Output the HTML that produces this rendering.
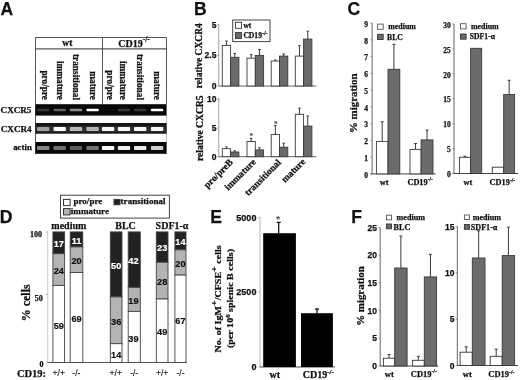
<!DOCTYPE html>
<html><head><meta charset="utf-8"><style>
html,body{margin:0;padding:0;background:#fff;}
svg{display:block;will-change:transform;}
</style></head><body>
<svg width="520" height="380" viewBox="0 0 520 380">
<defs><filter id="bl" x="-20%" y="-100%" width="140%" height="300%"><feGaussianBlur stdDeviation="0.7"/></filter></defs>
<rect x="0" y="0" width="520" height="380" fill="#fff"/>
<text x="0.60" y="14.60" font-family="'Liberation Sans', sans-serif" font-size="17.5" font-weight="bold" text-anchor="start" fill="#111" stroke="#111" stroke-width="0.25" >A</text>
<line x1="35.50" y1="37.50" x2="166.50" y2="37.50" stroke="#555" stroke-width="1"/>
<line x1="35.50" y1="48.80" x2="166.50" y2="48.80" stroke="#555" stroke-width="1.3"/>
<line x1="35.50" y1="37.50" x2="35.50" y2="154.00" stroke="#555" stroke-width="1"/>
<line x1="166.50" y1="37.50" x2="166.50" y2="104.00" stroke="#555" stroke-width="1"/>
<line x1="166.50" y1="104.00" x2="166.50" y2="154.00" stroke="#bbb" stroke-width="1"/>
<line x1="102.50" y1="37.50" x2="102.50" y2="104.00" stroke="#555" stroke-width="1"/>
<text x="67.30" y="45.70" font-family="'Liberation Serif', serif" font-size="9.5" font-weight="bold" text-anchor="middle" fill="#111" stroke="#111" stroke-width="0.25" >wt</text>
<text x="118.30" y="46.50" font-family="'Liberation Serif', serif" font-size="10" font-weight="bold" text-anchor="start" fill="#111" stroke="#111" stroke-width="0.25" >CD19<tspan font-size="7.5" dy="-4.3">-/-</tspan></text>
<text x="42.00" y="100.00" font-family="'Liberation Serif', serif" font-size="9.3" font-weight="bold" text-anchor="end" fill="#111" stroke="#111" stroke-width="0.25" transform="rotate(90 42.00 100.00)" >pro/pre</text>
<text x="56.70" y="100.00" font-family="'Liberation Serif', serif" font-size="9.3" font-weight="bold" text-anchor="end" fill="#111" stroke="#111" stroke-width="0.25" transform="rotate(90 56.70 100.00)" >immature</text>
<text x="73.20" y="100.00" font-family="'Liberation Serif', serif" font-size="9.3" font-weight="bold" text-anchor="end" fill="#111" stroke="#111" stroke-width="0.25" transform="rotate(90 73.20 100.00)" >transitional</text>
<text x="89.70" y="100.00" font-family="'Liberation Serif', serif" font-size="9.3" font-weight="bold" text-anchor="end" fill="#111" stroke="#111" stroke-width="0.25" transform="rotate(90 89.70 100.00)" >mature</text>
<text x="107.10" y="100.00" font-family="'Liberation Serif', serif" font-size="9.3" font-weight="bold" text-anchor="end" fill="#111" stroke="#111" stroke-width="0.25" transform="rotate(90 107.10 100.00)" >pro/pre</text>
<text x="120.30" y="100.00" font-family="'Liberation Serif', serif" font-size="9.3" font-weight="bold" text-anchor="end" fill="#111" stroke="#111" stroke-width="0.25" transform="rotate(90 120.30 100.00)" >immature</text>
<text x="137.00" y="100.00" font-family="'Liberation Serif', serif" font-size="9.3" font-weight="bold" text-anchor="end" fill="#111" stroke="#111" stroke-width="0.25" transform="rotate(90 137.00 100.00)" >transitional</text>
<text x="153.50" y="100.00" font-family="'Liberation Serif', serif" font-size="9.3" font-weight="bold" text-anchor="end" fill="#111" stroke="#111" stroke-width="0.25" transform="rotate(90 153.50 100.00)" >mature</text>
<rect x="35.50" y="104.20" width="131.00" height="11.40" fill="#080808" />
<rect x="35.50" y="123.00" width="131.00" height="10.70" fill="#151515" />
<rect x="35.50" y="126.00" width="131.00" height="6.30" fill="#2c2c2c" filter="url(#bl)"/>
<rect x="35.50" y="142.00" width="131.00" height="11.80" fill="#080808" />
<rect x="37.00" y="108.70" width="12.4" height="2.6" rx="1" fill="rgb(56,56,56)" filter="url(#bl)"/>
<rect x="53.50" y="108.70" width="12.4" height="2.6" rx="1" fill="rgb(96,96,96)" filter="url(#bl)"/>
<rect x="69.80" y="108.70" width="12.4" height="2.6" rx="1" fill="rgb(140,140,140)" filter="url(#bl)"/>
<rect x="86.40" y="108.70" width="12.4" height="2.6" rx="1" fill="rgb(255,255,255)" filter="url(#bl)"/>
<rect x="101.90" y="108.70" width="12.4" height="2.6" rx="1" fill="rgb(15,15,15)" filter="url(#bl)"/>
<rect x="117.80" y="108.70" width="12.4" height="2.6" rx="1" fill="rgb(56,56,56)" filter="url(#bl)"/>
<rect x="134.00" y="108.70" width="12.4" height="2.6" rx="1" fill="rgb(56,56,56)" filter="url(#bl)"/>
<rect x="150.90" y="108.70" width="12.4" height="2.6" rx="1" fill="rgb(255,255,255)" filter="url(#bl)"/>
<rect x="37.00" y="127.10" width="12.4" height="3.8" rx="1" fill="rgb(158,158,158)" filter="url(#bl)"/>
<rect x="53.50" y="127.10" width="12.4" height="3.8" rx="1" fill="rgb(255,255,255)" filter="url(#bl)"/>
<rect x="69.80" y="127.10" width="12.4" height="3.8" rx="1" fill="rgb(183,183,183)" filter="url(#bl)"/>
<rect x="86.40" y="127.10" width="12.4" height="3.8" rx="1" fill="rgb(178,178,178)" filter="url(#bl)"/>
<rect x="101.90" y="127.10" width="12.4" height="3.8" rx="1" fill="rgb(247,247,247)" filter="url(#bl)"/>
<rect x="117.80" y="127.10" width="12.4" height="3.8" rx="1" fill="rgb(247,247,247)" filter="url(#bl)"/>
<rect x="134.00" y="127.10" width="12.4" height="3.8" rx="1" fill="rgb(247,247,247)" filter="url(#bl)"/>
<rect x="150.90" y="127.10" width="12.4" height="3.8" rx="1" fill="rgb(247,247,247)" filter="url(#bl)"/>
<rect x="37.00" y="146.10" width="12.4" height="3.8" rx="1" fill="rgb(132,132,132)" filter="url(#bl)"/>
<rect x="53.50" y="146.10" width="12.4" height="3.8" rx="1" fill="rgb(114,114,114)" filter="url(#bl)"/>
<rect x="69.80" y="146.10" width="12.4" height="3.8" rx="1" fill="rgb(91,91,91)" filter="url(#bl)"/>
<rect x="86.40" y="146.10" width="12.4" height="3.8" rx="1" fill="rgb(114,114,114)" filter="url(#bl)"/>
<rect x="101.90" y="146.10" width="12.4" height="3.8" rx="1" fill="rgb(247,247,247)" filter="url(#bl)"/>
<rect x="117.80" y="146.10" width="12.4" height="3.8" rx="1" fill="rgb(237,237,237)" filter="url(#bl)"/>
<rect x="134.00" y="146.10" width="12.4" height="3.8" rx="1" fill="rgb(234,234,234)" filter="url(#bl)"/>
<rect x="150.90" y="146.10" width="12.4" height="3.8" rx="1" fill="rgb(209,209,209)" filter="url(#bl)"/>
<text x="31.40" y="112.90" font-family="'Liberation Serif', serif" font-size="9.1" font-weight="bold" text-anchor="end" fill="#111" stroke="#111" stroke-width="0.25" >CXCR5</text>
<text x="31.60" y="131.80" font-family="'Liberation Serif', serif" font-size="9.1" font-weight="bold" text-anchor="end" fill="#111" stroke="#111" stroke-width="0.25" >CXCR4</text>
<text x="31.80" y="150.00" font-family="'Liberation Serif', serif" font-size="8.8" font-weight="bold" text-anchor="end" fill="#111" stroke="#111" stroke-width="0.25" >actin</text>
<text x="194.10" y="14.90" font-family="'Liberation Sans', sans-serif" font-size="17.5" font-weight="bold" text-anchor="start" fill="#111" stroke="#111" stroke-width="0.25" >B</text>
<line x1="218.75" y1="24.50" x2="218.75" y2="86.00" stroke="#888" stroke-width="0.8"/>
<line x1="218.75" y1="86.00" x2="316.40" y2="86.00" stroke="#555" stroke-width="0.9"/>
<line x1="217.25" y1="24.50" x2="218.75" y2="24.50" stroke="#888" stroke-width="0.8"/>
<text x="216.40" y="27.50" font-family="'Liberation Sans', sans-serif" font-size="8.5" font-weight="bold" text-anchor="end" fill="#111" stroke="#111" stroke-width="0.25" >5</text>
<line x1="217.25" y1="55.20" x2="218.75" y2="55.20" stroke="#888" stroke-width="0.8"/>
<text x="216.40" y="58.20" font-family="'Liberation Sans', sans-serif" font-size="8.5" font-weight="bold" text-anchor="end" fill="#111" stroke="#111" stroke-width="0.25" >2.5</text>
<line x1="217.25" y1="86.00" x2="218.75" y2="86.00" stroke="#888" stroke-width="0.8"/>
<text x="216.40" y="89.00" font-family="'Liberation Sans', sans-serif" font-size="8.5" font-weight="bold" text-anchor="end" fill="#111" stroke="#111" stroke-width="0.25" >0</text>
<rect x="222.30" y="45.40" width="8.30" height="40.60" fill="#fff" stroke="#3a3a3a" stroke-width="0.9" />
<rect x="230.60" y="57.30" width="8.30" height="28.70" fill="#6b6b6b" stroke="#3a3a3a" stroke-width="0.9" />
<line x1="226.45" y1="45.40" x2="226.45" y2="41.10" stroke="#3a3a3a" stroke-width="1"/>
<line x1="225.20" y1="41.10" x2="227.70" y2="41.10" stroke="#3a3a3a" stroke-width="1"/>
<line x1="234.75" y1="57.30" x2="234.75" y2="53.60" stroke="#3a3a3a" stroke-width="1"/>
<line x1="233.50" y1="53.60" x2="236.00" y2="53.60" stroke="#3a3a3a" stroke-width="1"/>
<rect x="247.00" y="58.20" width="8.30" height="27.80" fill="#fff" stroke="#3a3a3a" stroke-width="0.9" />
<rect x="255.30" y="55.40" width="8.30" height="30.60" fill="#6b6b6b" stroke="#3a3a3a" stroke-width="0.9" />
<line x1="251.15" y1="58.20" x2="251.15" y2="54.60" stroke="#3a3a3a" stroke-width="1"/>
<line x1="249.90" y1="54.60" x2="252.40" y2="54.60" stroke="#3a3a3a" stroke-width="1"/>
<line x1="259.45" y1="55.40" x2="259.45" y2="49.50" stroke="#3a3a3a" stroke-width="1"/>
<line x1="258.20" y1="49.50" x2="260.70" y2="49.50" stroke="#3a3a3a" stroke-width="1"/>
<rect x="271.20" y="61.00" width="8.30" height="25.00" fill="#fff" stroke="#3a3a3a" stroke-width="0.9" />
<rect x="279.50" y="56.10" width="8.30" height="29.90" fill="#6b6b6b" stroke="#3a3a3a" stroke-width="0.9" />
<line x1="275.35" y1="61.00" x2="275.35" y2="60.00" stroke="#3a3a3a" stroke-width="1"/>
<line x1="274.10" y1="60.00" x2="276.60" y2="60.00" stroke="#3a3a3a" stroke-width="1"/>
<line x1="283.65" y1="56.10" x2="283.65" y2="54.00" stroke="#3a3a3a" stroke-width="1"/>
<line x1="282.40" y1="54.00" x2="284.90" y2="54.00" stroke="#3a3a3a" stroke-width="1"/>
<rect x="295.30" y="56.10" width="8.30" height="29.90" fill="#fff" stroke="#3a3a3a" stroke-width="0.9" />
<rect x="303.60" y="39.10" width="8.30" height="46.90" fill="#6b6b6b" stroke="#3a3a3a" stroke-width="0.9" />
<line x1="299.45" y1="56.10" x2="299.45" y2="45.70" stroke="#3a3a3a" stroke-width="1"/>
<line x1="298.20" y1="45.70" x2="300.70" y2="45.70" stroke="#3a3a3a" stroke-width="1"/>
<line x1="307.75" y1="39.10" x2="307.75" y2="31.20" stroke="#3a3a3a" stroke-width="1"/>
<line x1="306.50" y1="31.20" x2="309.00" y2="31.20" stroke="#3a3a3a" stroke-width="1"/>
<text x="201.80" y="55.70" font-family="'Liberation Serif', serif" font-size="9.5" font-weight="bold" text-anchor="middle" fill="#111" stroke="#111" stroke-width="0.25" transform="rotate(-90 201.80 55.70)" >relative CXCR4</text>
<rect x="232.70" y="20.00" width="37.30" height="21.60" fill="#fff" stroke="#444" stroke-width="1" />
<rect x="235.50" y="22.30" width="6.10" height="6.00" fill="#fff" stroke="#333" stroke-width="0.9" />
<rect x="235.50" y="32.60" width="6.10" height="5.80" fill="#6b6b6b" stroke="#333" stroke-width="0.9" />
<text x="243.40" y="28.00" font-family="'Liberation Serif', serif" font-size="7.5" font-weight="bold" text-anchor="start" fill="#111" stroke="#111" stroke-width="0.25" >wt</text>
<text x="243.40" y="38.40" font-family="'Liberation Serif', serif" font-size="7.6" font-weight="bold" text-anchor="start" fill="#111" stroke="#111" stroke-width="0.25" >CD19<tspan font-size="6" dy="-3.3">-/-</tspan></text>
<line x1="218.75" y1="98.00" x2="218.75" y2="156.70" stroke="#888" stroke-width="0.8"/>
<line x1="218.75" y1="156.70" x2="316.40" y2="156.70" stroke="#555" stroke-width="0.9"/>
<line x1="217.25" y1="99.10" x2="218.75" y2="99.10" stroke="#888" stroke-width="0.8"/>
<text x="216.40" y="102.10" font-family="'Liberation Sans', sans-serif" font-size="8.5" font-weight="bold" text-anchor="end" fill="#111" stroke="#111" stroke-width="0.25" >10</text>
<line x1="217.25" y1="127.90" x2="218.75" y2="127.90" stroke="#888" stroke-width="0.8"/>
<text x="216.40" y="130.90" font-family="'Liberation Sans', sans-serif" font-size="8.5" font-weight="bold" text-anchor="end" fill="#111" stroke="#111" stroke-width="0.25" >5</text>
<line x1="217.25" y1="156.70" x2="218.75" y2="156.70" stroke="#888" stroke-width="0.8"/>
<text x="216.40" y="159.70" font-family="'Liberation Sans', sans-serif" font-size="8.5" font-weight="bold" text-anchor="end" fill="#111" stroke="#111" stroke-width="0.25" >0</text>
<rect x="222.30" y="148.70" width="8.30" height="8.00" fill="#fff" stroke="#3a3a3a" stroke-width="0.9" />
<rect x="230.60" y="152.00" width="8.30" height="4.70" fill="#6b6b6b" stroke="#3a3a3a" stroke-width="0.9" />
<line x1="226.45" y1="148.70" x2="226.45" y2="146.90" stroke="#3a3a3a" stroke-width="1"/>
<line x1="225.20" y1="146.90" x2="227.70" y2="146.90" stroke="#3a3a3a" stroke-width="1"/>
<line x1="234.75" y1="152.00" x2="234.75" y2="150.80" stroke="#3a3a3a" stroke-width="1"/>
<line x1="233.50" y1="150.80" x2="236.00" y2="150.80" stroke="#3a3a3a" stroke-width="1"/>
<rect x="247.00" y="141.50" width="8.30" height="15.20" fill="#fff" stroke="#3a3a3a" stroke-width="0.9" />
<rect x="255.30" y="149.90" width="8.30" height="6.80" fill="#6b6b6b" stroke="#3a3a3a" stroke-width="0.9" />
<line x1="251.15" y1="141.50" x2="251.15" y2="138.30" stroke="#3a3a3a" stroke-width="1"/>
<line x1="249.90" y1="138.30" x2="252.40" y2="138.30" stroke="#3a3a3a" stroke-width="1"/>
<line x1="259.45" y1="149.90" x2="259.45" y2="147.80" stroke="#3a3a3a" stroke-width="1"/>
<line x1="258.20" y1="147.80" x2="260.70" y2="147.80" stroke="#3a3a3a" stroke-width="1"/>
<rect x="271.20" y="134.40" width="8.30" height="22.30" fill="#fff" stroke="#3a3a3a" stroke-width="0.9" />
<rect x="279.50" y="147.20" width="8.30" height="9.50" fill="#6b6b6b" stroke="#3a3a3a" stroke-width="0.9" />
<line x1="275.35" y1="134.40" x2="275.35" y2="125.50" stroke="#3a3a3a" stroke-width="1"/>
<line x1="274.10" y1="125.50" x2="276.60" y2="125.50" stroke="#3a3a3a" stroke-width="1"/>
<line x1="283.65" y1="147.20" x2="283.65" y2="143.20" stroke="#3a3a3a" stroke-width="1"/>
<line x1="282.40" y1="143.20" x2="284.90" y2="143.20" stroke="#3a3a3a" stroke-width="1"/>
<rect x="295.30" y="114.30" width="8.30" height="42.40" fill="#fff" stroke="#3a3a3a" stroke-width="0.9" />
<rect x="303.60" y="126.10" width="8.30" height="30.60" fill="#6b6b6b" stroke="#3a3a3a" stroke-width="0.9" />
<line x1="299.45" y1="114.30" x2="299.45" y2="108.10" stroke="#3a3a3a" stroke-width="1"/>
<line x1="298.20" y1="108.10" x2="300.70" y2="108.10" stroke="#3a3a3a" stroke-width="1"/>
<line x1="307.75" y1="126.10" x2="307.75" y2="116.00" stroke="#3a3a3a" stroke-width="1"/>
<line x1="306.50" y1="116.00" x2="309.00" y2="116.00" stroke="#3a3a3a" stroke-width="1"/>
<text x="251.20" y="138.20" font-family="'Liberation Sans', sans-serif" font-size="8" font-weight="bold" text-anchor="middle" fill="#555" stroke="#555" stroke-width="0.2" >*</text>
<text x="275.90" y="125.60" font-family="'Liberation Sans', sans-serif" font-size="8" font-weight="bold" text-anchor="middle" fill="#555" stroke="#555" stroke-width="0.2" >*</text>
<text x="202.60" y="128.20" font-family="'Liberation Serif', serif" font-size="9.6" font-weight="bold" text-anchor="middle" fill="#111" stroke="#111" stroke-width="0.25" transform="rotate(-90 202.60 128.20)" >relative CXCR5</text>
<text x="233.50" y="162.80" font-family="'Liberation Serif', serif" font-size="9.5" font-weight="bold" text-anchor="end" fill="#111" stroke="#111" stroke-width="0.25" transform="rotate(-45 233.50 162.80)" >pro/preB</text>
<text x="256.50" y="162.50" font-family="'Liberation Serif', serif" font-size="9.5" font-weight="bold" text-anchor="end" fill="#111" stroke="#111" stroke-width="0.25" transform="rotate(-45 256.50 162.50)" >immature</text>
<text x="281.60" y="163.00" font-family="'Liberation Serif', serif" font-size="9.5" font-weight="bold" text-anchor="end" fill="#111" stroke="#111" stroke-width="0.25" transform="rotate(-45 281.60 163.00)" >transitional</text>
<text x="305.90" y="162.30" font-family="'Liberation Serif', serif" font-size="9.5" font-weight="bold" text-anchor="end" fill="#111" stroke="#111" stroke-width="0.25" transform="rotate(-45 305.90 162.30)" >mature</text>
<text x="347.60" y="14.60" font-family="'Liberation Sans', sans-serif" font-size="17.5" font-weight="bold" text-anchor="start" fill="#111" stroke="#111" stroke-width="0.25" >C</text>
<line x1="372.10" y1="23.10" x2="372.10" y2="173.90" stroke="#666" stroke-width="1"/>
<line x1="370.60" y1="173.90" x2="435.80" y2="173.90" stroke="#444" stroke-width="1"/>
<line x1="370.50" y1="173.90" x2="372.10" y2="173.90" stroke="#777" stroke-width="0.8"/>
<text x="368.00" y="177.60" font-family="'Liberation Serif', serif" font-size="7.5" font-weight="bold" text-anchor="end" fill="#111" stroke="#111" stroke-width="0.25" >0</text>
<line x1="370.50" y1="157.14" x2="372.10" y2="157.14" stroke="#777" stroke-width="0.8"/>
<text x="368.00" y="160.84" font-family="'Liberation Serif', serif" font-size="7.5" font-weight="bold" text-anchor="end" fill="#111" stroke="#111" stroke-width="0.25" >1</text>
<line x1="370.50" y1="140.39" x2="372.10" y2="140.39" stroke="#777" stroke-width="0.8"/>
<text x="368.00" y="144.09" font-family="'Liberation Serif', serif" font-size="7.5" font-weight="bold" text-anchor="end" fill="#111" stroke="#111" stroke-width="0.25" >2</text>
<line x1="370.50" y1="123.63" x2="372.10" y2="123.63" stroke="#777" stroke-width="0.8"/>
<text x="368.00" y="127.33" font-family="'Liberation Serif', serif" font-size="7.5" font-weight="bold" text-anchor="end" fill="#111" stroke="#111" stroke-width="0.25" >3</text>
<line x1="370.50" y1="106.88" x2="372.10" y2="106.88" stroke="#777" stroke-width="0.8"/>
<text x="368.00" y="110.58" font-family="'Liberation Serif', serif" font-size="7.5" font-weight="bold" text-anchor="end" fill="#111" stroke="#111" stroke-width="0.25" >4</text>
<line x1="370.50" y1="90.12" x2="372.10" y2="90.12" stroke="#777" stroke-width="0.8"/>
<text x="368.00" y="93.82" font-family="'Liberation Serif', serif" font-size="7.5" font-weight="bold" text-anchor="end" fill="#111" stroke="#111" stroke-width="0.25" >5</text>
<line x1="370.50" y1="73.37" x2="372.10" y2="73.37" stroke="#777" stroke-width="0.8"/>
<text x="368.00" y="77.07" font-family="'Liberation Serif', serif" font-size="7.5" font-weight="bold" text-anchor="end" fill="#111" stroke="#111" stroke-width="0.25" >6</text>
<line x1="370.50" y1="56.61" x2="372.10" y2="56.61" stroke="#777" stroke-width="0.8"/>
<text x="368.00" y="60.31" font-family="'Liberation Serif', serif" font-size="7.5" font-weight="bold" text-anchor="end" fill="#111" stroke="#111" stroke-width="0.25" >7</text>
<line x1="370.50" y1="39.86" x2="372.10" y2="39.86" stroke="#777" stroke-width="0.8"/>
<text x="368.00" y="43.56" font-family="'Liberation Serif', serif" font-size="7.5" font-weight="bold" text-anchor="end" fill="#111" stroke="#111" stroke-width="0.25" >8</text>
<line x1="370.50" y1="23.10" x2="372.10" y2="23.10" stroke="#777" stroke-width="0.8"/>
<text x="368.00" y="26.80" font-family="'Liberation Serif', serif" font-size="7.5" font-weight="bold" text-anchor="end" fill="#111" stroke="#111" stroke-width="0.25" >9</text>
<rect x="376.40" y="141.40" width="11.60" height="32.50" fill="#fff" stroke="#3a3a3a" stroke-width="0.9" />
<line x1="382.20" y1="141.40" x2="382.20" y2="121.80" stroke="#3a3a3a" stroke-width="1"/>
<line x1="380.70" y1="121.80" x2="383.70" y2="121.80" stroke="#3a3a3a" stroke-width="1"/>
<rect x="388.00" y="69.30" width="11.80" height="104.60" fill="#6b6b6b" stroke="#3a3a3a" stroke-width="0.9" />
<line x1="393.90" y1="69.30" x2="393.90" y2="44.30" stroke="#3a3a3a" stroke-width="1"/>
<line x1="392.40" y1="44.30" x2="395.40" y2="44.30" stroke="#3a3a3a" stroke-width="1"/>
<rect x="410.00" y="149.40" width="11.10" height="24.50" fill="#fff" stroke="#3a3a3a" stroke-width="0.9" />
<line x1="415.55" y1="149.40" x2="415.55" y2="143.50" stroke="#3a3a3a" stroke-width="1"/>
<line x1="414.05" y1="143.50" x2="417.05" y2="143.50" stroke="#3a3a3a" stroke-width="1"/>
<rect x="421.10" y="139.90" width="11.90" height="34.00" fill="#6b6b6b" stroke="#3a3a3a" stroke-width="0.9" />
<line x1="427.05" y1="139.90" x2="427.05" y2="130.10" stroke="#3a3a3a" stroke-width="1"/>
<line x1="425.55" y1="130.10" x2="428.55" y2="130.10" stroke="#3a3a3a" stroke-width="1"/>
<rect x="377.60" y="24.10" width="5.60" height="5.20" fill="#fff" stroke="#555" stroke-width="0.9" />
<rect x="377.60" y="34.30" width="5.60" height="5.20" fill="#6b6b6b" stroke="#333" stroke-width="0.9" />
<text x="388.30" y="28.90" font-family="'Liberation Serif', serif" font-size="7.9" font-weight="bold" text-anchor="start" fill="#111" stroke="#111" stroke-width="0.25" >medium</text>
<text x="387.10" y="39.60" font-family="'Liberation Serif', serif" font-size="7.7" font-weight="bold" text-anchor="start" fill="#111" stroke="#111" stroke-width="0.25" >BLC</text>
<line x1="454.00" y1="24.00" x2="454.00" y2="173.50" stroke="#666" stroke-width="1"/>
<line x1="452.50" y1="173.50" x2="518.30" y2="173.50" stroke="#444" stroke-width="1"/>
<line x1="452.40" y1="173.50" x2="454.00" y2="173.50" stroke="#777" stroke-width="0.8"/>
<text x="450.80" y="177.20" font-family="'Liberation Serif', serif" font-size="7.5" font-weight="bold" text-anchor="end" fill="#111" stroke="#111" stroke-width="0.25" >0</text>
<line x1="452.40" y1="148.58" x2="454.00" y2="148.58" stroke="#777" stroke-width="0.8"/>
<text x="450.80" y="152.28" font-family="'Liberation Serif', serif" font-size="7.5" font-weight="bold" text-anchor="end" fill="#111" stroke="#111" stroke-width="0.25" >5</text>
<line x1="452.40" y1="123.67" x2="454.00" y2="123.67" stroke="#777" stroke-width="0.8"/>
<text x="450.80" y="127.37" font-family="'Liberation Serif', serif" font-size="7.5" font-weight="bold" text-anchor="end" fill="#111" stroke="#111" stroke-width="0.25" >10</text>
<line x1="452.40" y1="98.75" x2="454.00" y2="98.75" stroke="#777" stroke-width="0.8"/>
<text x="450.80" y="102.45" font-family="'Liberation Serif', serif" font-size="7.5" font-weight="bold" text-anchor="end" fill="#111" stroke="#111" stroke-width="0.25" >15</text>
<line x1="452.40" y1="73.83" x2="454.00" y2="73.83" stroke="#777" stroke-width="0.8"/>
<text x="450.80" y="77.53" font-family="'Liberation Serif', serif" font-size="7.5" font-weight="bold" text-anchor="end" fill="#111" stroke="#111" stroke-width="0.25" >20</text>
<line x1="452.40" y1="48.92" x2="454.00" y2="48.92" stroke="#777" stroke-width="0.8"/>
<text x="450.80" y="52.62" font-family="'Liberation Serif', serif" font-size="7.5" font-weight="bold" text-anchor="end" fill="#111" stroke="#111" stroke-width="0.25" >25</text>
<line x1="452.40" y1="24.00" x2="454.00" y2="24.00" stroke="#777" stroke-width="0.8"/>
<text x="450.80" y="27.70" font-family="'Liberation Serif', serif" font-size="7.5" font-weight="bold" text-anchor="end" fill="#111" stroke="#111" stroke-width="0.25" >30</text>
<rect x="459.40" y="157.30" width="11.20" height="16.20" fill="#fff" stroke="#3a3a3a" stroke-width="0.9" />
<line x1="465.00" y1="157.30" x2="465.00" y2="156.30" stroke="#3a3a3a" stroke-width="1"/>
<line x1="463.50" y1="156.30" x2="466.50" y2="156.30" stroke="#3a3a3a" stroke-width="1"/>
<rect x="470.60" y="48.30" width="11.10" height="125.20" fill="#6b6b6b" stroke="#3a3a3a" stroke-width="0.9" />
<rect x="492.30" y="167.20" width="11.40" height="6.30" fill="#fff" stroke="#3a3a3a" stroke-width="0.9" />
<rect x="503.70" y="94.50" width="10.90" height="79.00" fill="#6b6b6b" stroke="#3a3a3a" stroke-width="0.9" />
<line x1="509.15" y1="94.50" x2="509.15" y2="80.30" stroke="#3a3a3a" stroke-width="1"/>
<line x1="507.65" y1="80.30" x2="510.65" y2="80.30" stroke="#3a3a3a" stroke-width="1"/>
<rect x="460.50" y="23.70" width="5.60" height="5.20" fill="#fff" stroke="#555" stroke-width="0.9" />
<rect x="460.50" y="34.00" width="5.60" height="5.20" fill="#6b6b6b" stroke="#333" stroke-width="0.9" />
<text x="471.00" y="28.50" font-family="'Liberation Serif', serif" font-size="7.9" font-weight="bold" text-anchor="start" fill="#111" stroke="#111" stroke-width="0.25" >medium</text>
<text x="469.80" y="39.30" font-family="'Liberation Serif', serif" font-size="7.7" font-weight="bold" text-anchor="start" fill="#111" stroke="#111" stroke-width="0.25" >SDF1-&#945;</text>
<text x="357.00" y="103.20" font-family="'Liberation Serif', serif" font-size="10.9" font-weight="bold" text-anchor="middle" fill="#111" stroke="#111" stroke-width="0.25" transform="rotate(-90 357.00 103.20)" >% migration</text>
<text x="384.20" y="184.60" font-family="'Liberation Serif', serif" font-size="8.3" font-weight="bold" text-anchor="middle" fill="#111" stroke="#111" stroke-width="0.25" >wt</text>
<text x="407.40" y="184.60" font-family="'Liberation Serif', serif" font-size="8.3" font-weight="bold" text-anchor="start" fill="#111" stroke="#111" stroke-width="0.25" >CD19<tspan font-size="5.5" dy="-3.2">-/-</tspan></text>
<text x="467.80" y="184.80" font-family="'Liberation Serif', serif" font-size="8.3" font-weight="bold" text-anchor="middle" fill="#111" stroke="#111" stroke-width="0.25" >wt</text>
<text x="489.60" y="184.80" font-family="'Liberation Serif', serif" font-size="8.3" font-weight="bold" text-anchor="start" fill="#111" stroke="#111" stroke-width="0.25" >CD19<tspan font-size="5.5" dy="-3.2">-/-</tspan></text>
<text x="-0.20" y="223.30" font-family="'Liberation Sans', sans-serif" font-size="17.5" font-weight="bold" text-anchor="start" fill="#111" stroke="#111" stroke-width="0.25" >D</text>
<line x1="47.70" y1="231.90" x2="47.70" y2="362.50" stroke="#bbb" stroke-width="0.8"/>
<line x1="46.00" y1="231.90" x2="47.70" y2="231.90" stroke="#999" stroke-width="0.8"/>
<line x1="46.00" y1="294.30" x2="47.70" y2="294.30" stroke="#999" stroke-width="0.8"/>
<line x1="47.20" y1="362.50" x2="187.00" y2="362.50" stroke="#555" stroke-width="1"/>
<text x="42.00" y="237.00" font-family="'Liberation Serif', serif" font-size="8" font-weight="bold" text-anchor="end" fill="#111" stroke="#111" stroke-width="0.25" >100</text>
<text x="42.80" y="300.50" font-family="'Liberation Serif', serif" font-size="8" font-weight="bold" text-anchor="end" fill="#111" stroke="#111" stroke-width="0.25" >50</text>
<text x="43.50" y="367.20" font-family="'Liberation Serif', serif" font-size="8" font-weight="bold" text-anchor="end" fill="#111" stroke="#111" stroke-width="0.25" >0</text>
<rect x="52.90" y="231.90" width="11.70" height="21.85" fill="#222" stroke="#444" stroke-width="0.9" />
<rect x="52.90" y="253.75" width="11.70" height="31.65" fill="#b3b3b3" stroke="#444" stroke-width="0.9" />
<rect x="52.90" y="285.40" width="11.70" height="77.10" fill="#fff" stroke="#444" stroke-width="0.9" />
<text x="58.75" y="247.30" font-family="'Liberation Sans', sans-serif" font-size="9.2" font-weight="bold" text-anchor="middle" fill="#fff" stroke="#fff" stroke-width="0.2" >17</text>
<text x="58.75" y="274.30" font-family="'Liberation Sans', sans-serif" font-size="9.2" font-weight="bold" text-anchor="middle" fill="#111" stroke="#111" stroke-width="0.2" >24</text>
<text x="58.75" y="328.60" font-family="'Liberation Sans', sans-serif" font-size="9.2" font-weight="bold" text-anchor="middle" fill="#111" stroke="#111" stroke-width="0.2" >59</text>
<rect x="70.20" y="231.90" width="12.60" height="15.00" fill="#222" stroke="#444" stroke-width="0.9" />
<rect x="70.20" y="246.90" width="12.60" height="25.60" fill="#b3b3b3" stroke="#444" stroke-width="0.9" />
<rect x="70.20" y="272.50" width="12.60" height="90.00" fill="#fff" stroke="#444" stroke-width="0.9" />
<text x="76.50" y="244.00" font-family="'Liberation Sans', sans-serif" font-size="9.2" font-weight="bold" text-anchor="middle" fill="#fff" stroke="#fff" stroke-width="0.2" >11</text>
<text x="76.50" y="263.90" font-family="'Liberation Sans', sans-serif" font-size="9.2" font-weight="bold" text-anchor="middle" fill="#111" stroke="#111" stroke-width="0.2" >20</text>
<text x="76.50" y="322.30" font-family="'Liberation Sans', sans-serif" font-size="9.2" font-weight="bold" text-anchor="middle" fill="#111" stroke="#111" stroke-width="0.2" >69</text>
<rect x="110.30" y="231.90" width="11.70" height="65.00" fill="#222" stroke="#444" stroke-width="0.9" />
<rect x="110.30" y="296.90" width="11.70" height="46.80" fill="#b3b3b3" stroke="#444" stroke-width="0.9" />
<rect x="110.30" y="343.70" width="11.70" height="18.80" fill="#fff" stroke="#444" stroke-width="0.9" />
<text x="116.15" y="269.30" font-family="'Liberation Sans', sans-serif" font-size="9.2" font-weight="bold" text-anchor="middle" fill="#fff" stroke="#fff" stroke-width="0.2" >50</text>
<text x="116.15" y="325.30" font-family="'Liberation Sans', sans-serif" font-size="9.2" font-weight="bold" text-anchor="middle" fill="#111" stroke="#111" stroke-width="0.2" >36</text>
<text x="116.15" y="357.80" font-family="'Liberation Sans', sans-serif" font-size="9.2" font-weight="bold" text-anchor="middle" fill="#111" stroke="#111" stroke-width="0.2" >14</text>
<rect x="128.20" y="231.90" width="12.10" height="55.50" fill="#222" stroke="#444" stroke-width="0.9" />
<rect x="128.20" y="287.40" width="12.10" height="24.00" fill="#b3b3b3" stroke="#444" stroke-width="0.9" />
<rect x="128.20" y="311.40" width="12.10" height="51.10" fill="#fff" stroke="#444" stroke-width="0.9" />
<text x="133.45" y="263.50" font-family="'Liberation Sans', sans-serif" font-size="9.2" font-weight="bold" text-anchor="middle" fill="#fff" stroke="#fff" stroke-width="0.2" >42</text>
<text x="133.45" y="303.50" font-family="'Liberation Sans', sans-serif" font-size="9.2" font-weight="bold" text-anchor="middle" fill="#111" stroke="#111" stroke-width="0.2" >19</text>
<text x="133.45" y="341.60" font-family="'Liberation Sans', sans-serif" font-size="9.2" font-weight="bold" text-anchor="middle" fill="#111" stroke="#111" stroke-width="0.2" >39</text>
<rect x="156.30" y="231.90" width="11.70" height="30.40" fill="#222" stroke="#444" stroke-width="0.9" />
<rect x="156.30" y="262.30" width="11.70" height="36.70" fill="#b3b3b3" stroke="#444" stroke-width="0.9" />
<rect x="156.30" y="299.00" width="11.70" height="63.50" fill="#fff" stroke="#444" stroke-width="0.9" />
<text x="162.15" y="251.00" font-family="'Liberation Sans', sans-serif" font-size="9.2" font-weight="bold" text-anchor="middle" fill="#fff" stroke="#fff" stroke-width="0.2" >23</text>
<text x="162.15" y="285.10" font-family="'Liberation Sans', sans-serif" font-size="9.2" font-weight="bold" text-anchor="middle" fill="#111" stroke="#111" stroke-width="0.2" >28</text>
<text x="162.15" y="335.30" font-family="'Liberation Sans', sans-serif" font-size="9.2" font-weight="bold" text-anchor="middle" fill="#111" stroke="#111" stroke-width="0.2" >49</text>
<rect x="174.90" y="231.90" width="11.10" height="17.90" fill="#222" stroke="#444" stroke-width="0.9" />
<rect x="174.90" y="249.80" width="11.10" height="25.30" fill="#b3b3b3" stroke="#444" stroke-width="0.9" />
<rect x="174.90" y="275.10" width="11.10" height="87.40" fill="#fff" stroke="#444" stroke-width="0.9" />
<text x="180.45" y="245.10" font-family="'Liberation Sans', sans-serif" font-size="9.2" font-weight="bold" text-anchor="middle" fill="#fff" stroke="#fff" stroke-width="0.2" >14</text>
<text x="180.45" y="266.60" font-family="'Liberation Sans', sans-serif" font-size="9.2" font-weight="bold" text-anchor="middle" fill="#111" stroke="#111" stroke-width="0.2" >20</text>
<text x="180.45" y="323.80" font-family="'Liberation Sans', sans-serif" font-size="9.2" font-weight="bold" text-anchor="middle" fill="#111" stroke="#111" stroke-width="0.2" >67</text>
<text x="68.80" y="229.40" font-family="'Liberation Serif', serif" font-size="10" font-weight="bold" text-anchor="middle" fill="#111" stroke="#111" stroke-width="0.25" >medium</text>
<text x="125.50" y="229.40" font-family="'Liberation Serif', serif" font-size="10" font-weight="bold" text-anchor="middle" fill="#111" stroke="#111" stroke-width="0.25" >BLC</text>
<text x="172.00" y="229.40" font-family="'Liberation Serif', serif" font-size="10" font-weight="bold" text-anchor="middle" fill="#111" stroke="#111" stroke-width="0.25" >SDF1-&#945;</text>
<rect x="60.50" y="195.20" width="108.90" height="22.90" fill="#fff" stroke="#444" stroke-width="1" />
<rect x="63.50" y="199.40" width="6.60" height="6.20" fill="#fff" stroke="#333" stroke-width="1" />
<rect x="63.50" y="208.60" width="6.60" height="6.30" fill="#b3b3b3" stroke="#333" stroke-width="1" />
<rect x="114.00" y="199.40" width="6.00" height="5.40" fill="#222" stroke="#333" stroke-width="0.9" />
<text x="73.40" y="204.40" font-family="'Liberation Serif', serif" font-size="9.1" font-weight="bold" text-anchor="start" fill="#111" stroke="#111" stroke-width="0.25" >pro/pre</text>
<text x="70.80" y="213.80" font-family="'Liberation Serif', serif" font-size="9.1" font-weight="bold" text-anchor="start" fill="#111" stroke="#111" stroke-width="0.25" >immature</text>
<text x="120.60" y="204.40" font-family="'Liberation Serif', serif" font-size="9.1" font-weight="bold" text-anchor="start" fill="#111" stroke="#111" stroke-width="0.25" >transitional</text>
<text x="29.80" y="302.80" font-family="'Liberation Serif', serif" font-size="12" font-weight="bold" text-anchor="middle" fill="#111" stroke="#111" stroke-width="0.25" transform="rotate(-90 29.80 302.80)" >% cells</text>
<text x="16.90" y="377.30" font-family="'Liberation Serif', serif" font-size="10.5" font-weight="bold" text-anchor="start" fill="#111" stroke="#111" stroke-width="0.25" >CD19:</text>
<text x="58.80" y="375.90" font-family="'Liberation Sans', sans-serif" font-size="8.6" font-weight="normal" text-anchor="middle" fill="#111" stroke="#111" stroke-width="0.1" >+/+</text>
<text x="76.40" y="375.90" font-family="'Liberation Sans', sans-serif" font-size="8.6" font-weight="normal" text-anchor="middle" fill="#111" stroke="#111" stroke-width="0.1" >-/-</text>
<text x="115.80" y="375.90" font-family="'Liberation Sans', sans-serif" font-size="8.6" font-weight="normal" text-anchor="middle" fill="#111" stroke="#111" stroke-width="0.1" >+/+</text>
<text x="134.20" y="375.90" font-family="'Liberation Sans', sans-serif" font-size="8.6" font-weight="normal" text-anchor="middle" fill="#111" stroke="#111" stroke-width="0.1" >-/-</text>
<text x="162.20" y="375.90" font-family="'Liberation Sans', sans-serif" font-size="8.6" font-weight="normal" text-anchor="middle" fill="#111" stroke="#111" stroke-width="0.1" >+/+</text>
<text x="180.50" y="375.90" font-family="'Liberation Sans', sans-serif" font-size="8.6" font-weight="normal" text-anchor="middle" fill="#111" stroke="#111" stroke-width="0.1" >-/-</text>
<text x="210.30" y="223.20" font-family="'Liberation Sans', sans-serif" font-size="17.5" font-weight="bold" text-anchor="start" fill="#111" stroke="#111" stroke-width="0.25" >E</text>
<line x1="260.00" y1="216.60" x2="260.00" y2="367.00" stroke="#aaa" stroke-width="0.8"/>
<line x1="260.00" y1="367.00" x2="334.80" y2="367.00" stroke="#444" stroke-width="1"/>
<line x1="258.50" y1="217.90" x2="260.00" y2="217.90" stroke="#999" stroke-width="0.8"/>
<text x="256.40" y="221.10" font-family="'Liberation Sans', sans-serif" font-size="9" font-weight="bold" text-anchor="end" fill="#111" stroke="#111" stroke-width="0.25" >5000</text>
<line x1="258.50" y1="292.00" x2="260.00" y2="292.00" stroke="#999" stroke-width="0.8"/>
<text x="256.40" y="295.20" font-family="'Liberation Sans', sans-serif" font-size="9" font-weight="bold" text-anchor="end" fill="#111" stroke="#111" stroke-width="0.25" >2500</text>
<line x1="258.50" y1="367.00" x2="260.00" y2="367.00" stroke="#999" stroke-width="0.8"/>
<text x="256.40" y="370.20" font-family="'Liberation Sans', sans-serif" font-size="9" font-weight="bold" text-anchor="end" fill="#111" stroke="#111" stroke-width="0.25" >0</text>
<rect x="263.20" y="233.20" width="32.70" height="133.80" fill="#000" />
<rect x="301.00" y="313.20" width="31.90" height="53.80" fill="#000" />
<line x1="278.70" y1="233.20" x2="278.70" y2="222.40" stroke="#000" stroke-width="1.2"/>
<line x1="276.70" y1="222.40" x2="280.70" y2="222.40" stroke="#000" stroke-width="1.2"/>
<line x1="317.00" y1="313.20" x2="317.00" y2="309.00" stroke="#000" stroke-width="1.2"/>
<line x1="315.00" y1="309.00" x2="319.00" y2="309.00" stroke="#000" stroke-width="1.2"/>
<text x="278.20" y="222.00" font-family="'Liberation Sans', sans-serif" font-size="9.5" font-weight="bold" text-anchor="middle" fill="#555" stroke="#555" stroke-width="0.2" >*</text>
<text x="0.00" y="0.00" font-family="'Liberation Serif', serif" font-size="8.5" font-weight="bold" text-anchor="middle" fill="#111" stroke="#111" stroke-width="0.25" transform="translate(220.70 298.90) rotate(-90) scale(1.18 1)" >No. of IgM<tspan font-size="8.5" dy="-4.0">+</tspan><tspan dy="4.0">/CFSE</tspan><tspan font-size="8.5" dy="-4.0">+</tspan><tspan dy="4.0"> cells</tspan></text>
<text x="0.00" y="0.00" font-family="'Liberation Serif', serif" font-size="8.1" font-weight="bold" text-anchor="middle" fill="#111" stroke="#111" stroke-width="0.25" transform="translate(232.60 298.50) rotate(-90) scale(1.24 1)" >(per 10<tspan font-size="5.5" dy="-3">6</tspan><tspan dy="3"> splenic B cells)</tspan></text>
<text x="274.80" y="378.20" font-family="'Liberation Serif', serif" font-size="10" font-weight="bold" text-anchor="middle" fill="#111" stroke="#111" stroke-width="0.25" >wt</text>
<text x="302.80" y="378.20" font-family="'Liberation Serif', serif" font-size="10" font-weight="bold" text-anchor="start" fill="#111" stroke="#111" stroke-width="0.25" >CD19<tspan font-size="7" dy="-4">-/-</tspan></text>
<text x="351.30" y="223.00" font-family="'Liberation Sans', sans-serif" font-size="17.5" font-weight="bold" text-anchor="start" fill="#111" stroke="#111" stroke-width="0.25" >F</text>
<line x1="380.20" y1="227.40" x2="380.20" y2="366.00" stroke="#666" stroke-width="1"/>
<line x1="380.20" y1="366.00" x2="438.00" y2="366.00" stroke="#444" stroke-width="1"/>
<line x1="378.60" y1="366.00" x2="380.20" y2="366.00" stroke="#777" stroke-width="0.8"/>
<text x="377.00" y="369.10" font-family="'Liberation Sans', sans-serif" font-size="8.5" font-weight="bold" text-anchor="end" fill="#111" stroke="#111" stroke-width="0.25" >0</text>
<line x1="378.60" y1="338.28" x2="380.20" y2="338.28" stroke="#777" stroke-width="0.8"/>
<text x="377.00" y="341.38" font-family="'Liberation Sans', sans-serif" font-size="8.5" font-weight="bold" text-anchor="end" fill="#111" stroke="#111" stroke-width="0.25" >5</text>
<line x1="378.60" y1="310.56" x2="380.20" y2="310.56" stroke="#777" stroke-width="0.8"/>
<text x="377.00" y="313.66" font-family="'Liberation Sans', sans-serif" font-size="8.5" font-weight="bold" text-anchor="end" fill="#111" stroke="#111" stroke-width="0.25" >10</text>
<line x1="378.60" y1="282.84" x2="380.20" y2="282.84" stroke="#777" stroke-width="0.8"/>
<text x="377.00" y="285.94" font-family="'Liberation Sans', sans-serif" font-size="8.5" font-weight="bold" text-anchor="end" fill="#111" stroke="#111" stroke-width="0.25" >15</text>
<line x1="378.60" y1="255.12" x2="380.20" y2="255.12" stroke="#777" stroke-width="0.8"/>
<text x="377.00" y="258.22" font-family="'Liberation Sans', sans-serif" font-size="8.5" font-weight="bold" text-anchor="end" fill="#111" stroke="#111" stroke-width="0.25" >20</text>
<line x1="378.60" y1="227.40" x2="380.20" y2="227.40" stroke="#777" stroke-width="0.8"/>
<text x="377.00" y="230.50" font-family="'Liberation Sans', sans-serif" font-size="8.5" font-weight="bold" text-anchor="end" fill="#111" stroke="#111" stroke-width="0.25" >25</text>
<rect x="383.40" y="358.20" width="11.30" height="7.80" fill="#fff" stroke="#3a3a3a" stroke-width="0.9" />
<line x1="389.05" y1="358.20" x2="389.05" y2="354.50" stroke="#3a3a3a" stroke-width="1"/>
<line x1="387.55" y1="354.50" x2="390.55" y2="354.50" stroke="#3a3a3a" stroke-width="1"/>
<rect x="394.70" y="268.00" width="12.40" height="98.00" fill="#6b6b6b" stroke="#3a3a3a" stroke-width="0.9" />
<line x1="400.90" y1="268.00" x2="400.90" y2="236.00" stroke="#3a3a3a" stroke-width="1"/>
<line x1="399.40" y1="236.00" x2="402.40" y2="236.00" stroke="#3a3a3a" stroke-width="1"/>
<rect x="412.40" y="360.30" width="11.90" height="5.70" fill="#fff" stroke="#3a3a3a" stroke-width="0.9" />
<line x1="418.35" y1="360.30" x2="418.35" y2="356.30" stroke="#3a3a3a" stroke-width="1"/>
<line x1="416.85" y1="356.30" x2="419.85" y2="356.30" stroke="#3a3a3a" stroke-width="1"/>
<rect x="424.30" y="276.90" width="12.30" height="89.10" fill="#6b6b6b" stroke="#3a3a3a" stroke-width="0.9" />
<line x1="430.45" y1="276.90" x2="430.45" y2="254.40" stroke="#3a3a3a" stroke-width="1"/>
<line x1="428.95" y1="254.40" x2="431.95" y2="254.40" stroke="#3a3a3a" stroke-width="1"/>
<rect x="386.50" y="215.20" width="5.00" height="4.60" fill="#fff" stroke="#555" stroke-width="0.9" />
<rect x="386.50" y="224.00" width="5.00" height="4.80" fill="#6b6b6b" stroke="#333" stroke-width="0.9" />
<text x="396.60" y="220.00" font-family="'Liberation Serif', serif" font-size="8.1" font-weight="bold" text-anchor="start" fill="#111" stroke="#111" stroke-width="0.25" >medium</text>
<text x="393.60" y="229.60" font-family="'Liberation Serif', serif" font-size="8.1" font-weight="bold" text-anchor="start" fill="#111" stroke="#111" stroke-width="0.25" >BLC</text>
<line x1="457.30" y1="226.50" x2="457.30" y2="365.50" stroke="#666" stroke-width="1"/>
<line x1="457.30" y1="365.50" x2="518.00" y2="365.50" stroke="#444" stroke-width="1"/>
<line x1="455.70" y1="365.50" x2="457.30" y2="365.50" stroke="#777" stroke-width="0.8"/>
<text x="454.50" y="368.60" font-family="'Liberation Sans', sans-serif" font-size="8.5" font-weight="bold" text-anchor="end" fill="#111" stroke="#111" stroke-width="0.25" >0</text>
<line x1="455.70" y1="319.17" x2="457.30" y2="319.17" stroke="#777" stroke-width="0.8"/>
<text x="454.50" y="322.27" font-family="'Liberation Sans', sans-serif" font-size="8.5" font-weight="bold" text-anchor="end" fill="#111" stroke="#111" stroke-width="0.25" >5</text>
<line x1="455.70" y1="272.83" x2="457.30" y2="272.83" stroke="#777" stroke-width="0.8"/>
<text x="454.50" y="275.93" font-family="'Liberation Sans', sans-serif" font-size="8.5" font-weight="bold" text-anchor="end" fill="#111" stroke="#111" stroke-width="0.25" >10</text>
<line x1="455.70" y1="226.50" x2="457.30" y2="226.50" stroke="#777" stroke-width="0.8"/>
<text x="454.50" y="229.60" font-family="'Liberation Sans', sans-serif" font-size="8.5" font-weight="bold" text-anchor="end" fill="#111" stroke="#111" stroke-width="0.25" >15</text>
<rect x="460.10" y="352.20" width="12.20" height="13.30" fill="#fff" stroke="#3a3a3a" stroke-width="0.9" />
<line x1="466.20" y1="352.20" x2="466.20" y2="346.80" stroke="#3a3a3a" stroke-width="1"/>
<line x1="464.70" y1="346.80" x2="467.70" y2="346.80" stroke="#3a3a3a" stroke-width="1"/>
<rect x="472.30" y="258.00" width="12.70" height="107.50" fill="#6b6b6b" stroke="#3a3a3a" stroke-width="0.9" />
<line x1="478.65" y1="258.00" x2="478.65" y2="230.80" stroke="#3a3a3a" stroke-width="1"/>
<line x1="477.15" y1="230.80" x2="480.15" y2="230.80" stroke="#3a3a3a" stroke-width="1"/>
<rect x="490.20" y="356.30" width="12.00" height="9.20" fill="#fff" stroke="#3a3a3a" stroke-width="0.9" />
<line x1="496.20" y1="356.30" x2="496.20" y2="349.20" stroke="#3a3a3a" stroke-width="1"/>
<line x1="494.70" y1="349.20" x2="497.70" y2="349.20" stroke="#3a3a3a" stroke-width="1"/>
<rect x="502.20" y="255.60" width="12.40" height="109.90" fill="#6b6b6b" stroke="#3a3a3a" stroke-width="0.9" />
<line x1="508.40" y1="255.60" x2="508.40" y2="227.20" stroke="#3a3a3a" stroke-width="1"/>
<line x1="506.90" y1="227.20" x2="509.90" y2="227.20" stroke="#3a3a3a" stroke-width="1"/>
<rect x="464.40" y="215.00" width="5.00" height="4.60" fill="#fff" stroke="#555" stroke-width="0.9" />
<rect x="464.40" y="224.50" width="5.00" height="4.80" fill="#6b6b6b" stroke="#333" stroke-width="0.9" />
<text x="472.70" y="219.80" font-family="'Liberation Serif', serif" font-size="8.1" font-weight="bold" text-anchor="start" fill="#111" stroke="#111" stroke-width="0.25" >medium</text>
<text x="470.80" y="230.10" font-family="'Liberation Serif', serif" font-size="8.1" font-weight="bold" text-anchor="start" fill="#111" stroke="#111" stroke-width="0.25" >SDF1-&#945;</text>
<text x="363.70" y="296.00" font-family="'Liberation Serif', serif" font-size="10.9" font-weight="bold" text-anchor="middle" fill="#111" stroke="#111" stroke-width="0.25" transform="rotate(-90 363.70 296.00)" >% migration</text>
<text x="389.30" y="376.60" font-family="'Liberation Serif', serif" font-size="8.5" font-weight="bold" text-anchor="middle" fill="#111" stroke="#111" stroke-width="0.25" >wt</text>
<text x="410.80" y="376.60" font-family="'Liberation Serif', serif" font-size="8.5" font-weight="bold" text-anchor="start" fill="#111" stroke="#111" stroke-width="0.25" >CD19<tspan font-size="5.5" dy="-3.2">-/-</tspan></text>
<text x="467.30" y="377.30" font-family="'Liberation Serif', serif" font-size="8.5" font-weight="bold" text-anchor="middle" fill="#111" stroke="#111" stroke-width="0.25" >wt</text>
<text x="488.30" y="377.30" font-family="'Liberation Serif', serif" font-size="8.5" font-weight="bold" text-anchor="start" fill="#111" stroke="#111" stroke-width="0.25" >CD19<tspan font-size="5.5" dy="-3.2">-/-</tspan></text>
</svg>
</body></html>
